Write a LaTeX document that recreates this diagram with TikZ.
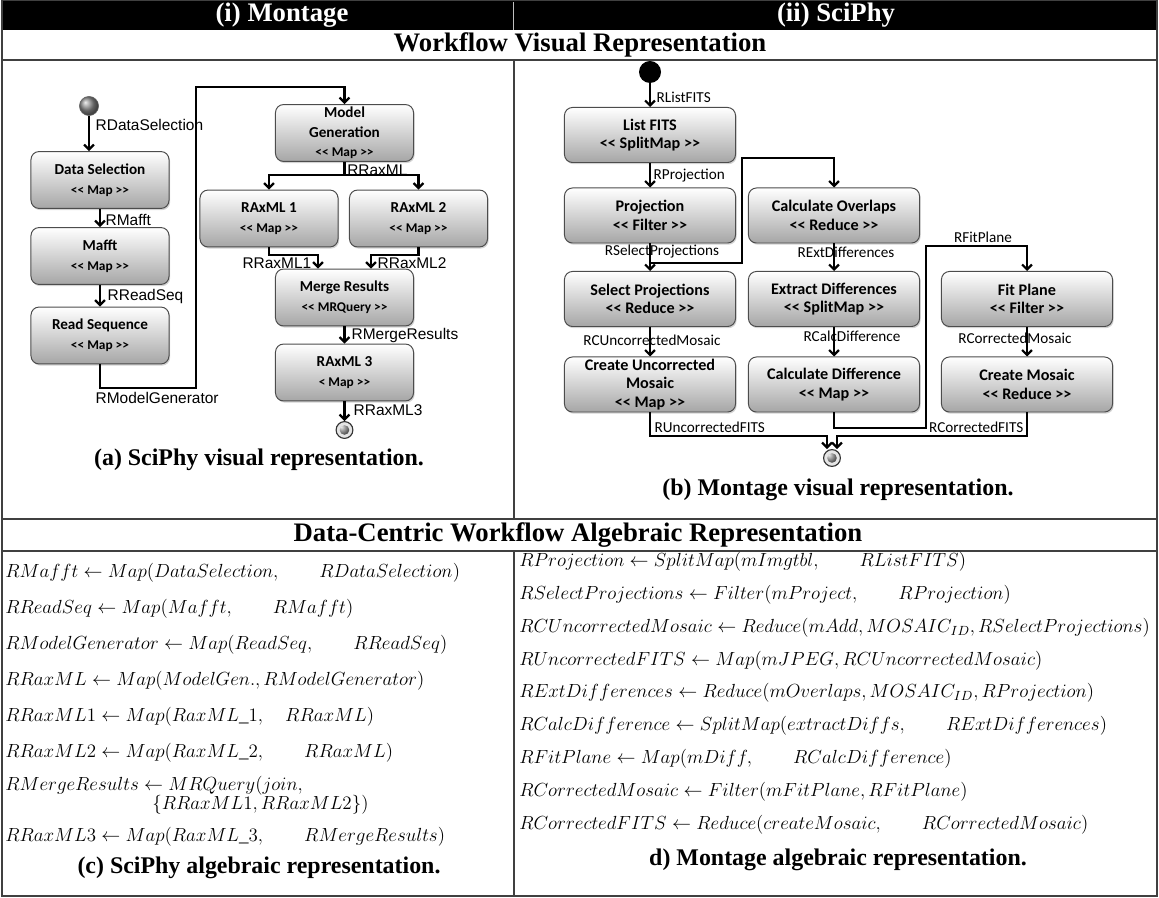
\RequirePackage{fix-cm}
\documentclass[tikz,border=0pt]{standalone}
\usepackage{fontspec}
\setmainfont{Liberation Serif}
\newfontfamily\calfont{Carlito}
\newfontfamily\arialfont{Liberation Sans}
\usetikzlibrary{positioning,arrows.meta,shadows}

\newcommand{\lstype}[1]{{\fontsize{9.5}{12}\selectfont\textless\textless{} #1 \textgreater\textgreater}}
\newcommand{\rstype}[1]{\textless\textless{} #1 \textgreater\textgreater}

\tikzset{
  lbox/.style={draw=black!70, line width=0.7pt, rounded corners=0.2cm, top color=white, bottom color=black!35,
    drop shadow={opacity=0.35, shadow xshift=0.8pt, shadow yshift=-1.2pt},
    minimum width=3.45cm, minimum height=1.42cm, align=center, inner sep=1pt,
    font=\calfont\bfseries\fontsize{10.8}{14}\selectfont},
  rbox/.style={lbox, minimum width=4.275cm, minimum height=1.375cm,
    font=\calfont\bfseries\fontsize{11.5}{13}\selectfont},
  flow/.style={line width=1.6pt, -{Straight Barb[length=3.5pt,width=7pt]}},
  wire/.style={line width=1.6pt},
  frame/.style={draw=black!75, line width=0.9pt},
  llab/.style={font=\arialfont\fontsize{11}{13}\selectfont, inner sep=1pt},
  rlab/.style={font=\calfont\fontsize{10.8}{13}\selectfont, inner sep=1pt},
  eqn/.style={anchor=west, font=\fontsize{13.5}{16}\selectfont, inner sep=0pt},
  ttl/.style={font=\bfseries\fontsize{19}{21}\selectfont, inner sep=0pt},
  captxt/.style={font=\bfseries\fontsize{17}{19}\selectfont, inner sep=0pt},
  startball/.style={circle, draw=black!60, ball color=black!45, minimum size=0.48cm, inner sep=0pt},
  startdot/.style={circle, fill=black, minimum size=0.55cm, inner sep=0pt},
  endpt/.style={circle, draw=black!80, line width=0.8pt, fill=black!10, minimum size=0.42cm, inner sep=0pt,
    path picture={\shade[ball color=black!50] (path picture bounding box.center) circle (0.12cm);}},
}

\begin{document}
\begin{tikzpicture}[x=0.025cm, y=-0.025cm]
\useasboundingbox (0,0) rectangle (1159,898);

% table frame
\fill[black] (2,0) rectangle (1157,30);
\draw[white!75!black, line width=0.6pt] (513,2) -- (513,30);
\node (hmont) at (282,15) [ttl, text=white] {(i) Montage};
\node (hsci) at (836,15) [ttl, text=white] {(ii) SciPhy};
\node (hvis) at (580,45) [ttl] {Workflow Visual Representation};
\node (halg) at (578,535) [ttl] {Data-Centric Workflow Algebraic Representation};
\draw[frame] (2,0) rectangle (1157,896);
\draw[frame] (2,60) -- (1157,60);
\draw[frame] (2,519) -- (1157,519);
\draw[frame] (2,551) -- (1157,551);
\draw[frame] (514,60) -- (514,519);
\draw[frame] (514,551) -- (514,896);

% SciPhy workflow
\node (lstart) at (89,106) [startball] {};
\node (dsel) at (100,180) [lbox] {Data Selection\\\lstype{Map}};
\node (mafft) at (100,256) [lbox] {Mafft\\\lstype{Map}};
\node (rseq) at (100,335.5) [lbox] {Read Sequence\\\lstype{Map}};
\node (mgen) at (344.5,133) [lbox] {Model\\Generation\\\lstype{Map}};
\node (rax1) at (269,218.5) [lbox] {RAxML 1\\\lstype{Map}};
\node (rax2) at (418.5,218.5) [lbox] {RAxML 2\\\lstype{Map}};
\node (merge) at (344.5,297.5) [lbox] {Merge Results\\\lstype{MRQuery}};
\node (rax3) at (344.5,372.5) [lbox] {RAxML 3\\{\fontsize{9.5}{12}\selectfont\textless{} Map \textgreater\textgreater}};
\node (lend) at (344.5,430) [endpt] {};

\coordinate (lbend) at (196,388);
\coordinate (ltop) at (196,87);
\coordinate (lsplit) at (344.5,175);
\coordinate (lj1) at (318,255);
\coordinate (lj2) at (371,255);

\draw[flow] (lstart) -- (lstart |- dsel.north);
\draw[flow] (dsel) -- (mafft);
\draw[flow] (mafft) -- (rseq);
\draw[flow] (rseq.south) |- (lbend) -- (ltop) -| (mgen.north);
\draw[wire] (mgen) -- (lsplit);
\draw[flow] (lsplit) -| (rax1.north);
\draw[flow] (lsplit) -| (rax2.north);
\draw[flow] (rax1.south) |- (lj1) -- (lj1 |- merge.north);
\draw[flow] (rax2.south) |- (lj2) -- (lj2 |- merge.north);
\draw[flow] (merge) -- (rax3);
\draw[flow] (rax3) -- (lend);

\node (tdsel) at (94,125) [llab, anchor=west] {RDataSelection};
\node (tmafft) at (104,220) [llab, anchor=west] {RMafft};
\node (trseq) at (106,297) [llab, anchor=west] {RReadSeq};
\node (tmgen) at (94,391) [llab, anchor=north west] {RModelGenerator};
\node (trax) at (347,176) [llab, anchor=south west, inner sep=0pt] {RRaxML};
\node (trax1) at (313,256) [llab, anchor=north east] {RRaxML1};
\node (trax2) at (376,256) [llab, anchor=north west] {RRaxML2};
\node (tmerge) at (350,336) [llab, anchor=west] {RMergeResults};
\node (trax3) at (352,410) [llab, anchor=west] {RRaxML3};
\node (capa) at (259,460) [captxt] {(a) SciPhy visual representation.};

% Montage workflow
\node (rstart) at (650,72) [startdot] {};
\node (lfits) at (650,135) [rbox] {List FITS\\\rstype{SplitMap}};
\node (proj) at (650,215.5) [rbox] {Projection\\\rstype{Filter}};
\node (covl) at (834,215.5) [rbox] {Calculate Overlaps\\\rstype{Reduce}};
\node (sproj) at (650,299) [rbox] {Select Projections\\\rstype{Reduce}};
\node (extd) at (834,299) [rbox] {Extract Differences\\\rstype{SplitMap}};
\node (fitp) at (1027,299) [rbox] {Fit Plane\\\rstype{Filter}};
\node (cunc) at (650,384.5) [rbox] {Create Uncorrected\\Mosaic\\\rstype{Map}};
\node (cdiff) at (834,384.5) [rbox] {Calculate Difference\\\rstype{Map}};
\node (cmos) at (1027,384.5) [rbox] {Create Mosaic\\\rstype{Reduce}};
\node (rend) at (832,458) [endpt] {};

\coordinate (rsplit) at (650,263);
\coordinate (rup) at (742,158);
\coordinate (rdn) at (926,428);
\coordinate (rhi) at (926,246);
\coordinate (rin1) at (827,436);
\coordinate (rin2) at (837,436);

\draw[flow] (rstart) -- (lfits);
\draw[flow] (lfits) -- (proj);
\draw[flow] (proj) -- (sproj);
\draw[flow] (rsplit) -| (rup) -| (covl.north);
\draw[flow] (covl) -- (extd);
\draw[flow] (extd) -- (cdiff);
\draw[flow] (sproj) -- (cunc);
\draw[flow] (fitp) -- (cmos);
\draw[flow] (cdiff.south) |- (rdn) -- (rhi) -| (fitp.north);
\draw[flow] (cunc.south) |- (rin1) -- (rin1 |- rend.north);
\draw[flow] (cmos.south) |- (rin2) -- (rin2 |- rend.north);

\node (tlfits) at (655,97) [rlab, anchor=west] {RListFITS};
\node (tproj) at (652,176) [rlab, anchor=west] {RProjection};
\node (tsproj) at (662,252) [rlab] {RSelectProjections};
\node (textd) at (846,252) [rlab] {RExtDifferences};
\node (tcunc) at (652,340) [rlab] {RCUncorrectedMosaic};
\node (tcdiff) at (852,336) [rlab] {RCalcDifference};
\node (tcmos) at (1015,338) [rlab] {RCorrectedMosaic};
\node (tfitp) at (983,244) [rlab, anchor=south] {RFitPlane};
\node (tufits) at (653,434) [rlab, anchor=south west] {RUncorrectedFITS};
\node (tcfits) at (1025,434) [rlab, anchor=south east] {RCorrectedFITS};
\node (capb) at (838,490) [captxt] {(b) Montage visual representation.};

% algebraic representation
\node (e1) at (5,573) [eqn] {$RMafft \leftarrow Map(DataSelection,\qquad RDataSelection)$};
\node (e2) at (5,609) [eqn] {$RReadSeq \leftarrow Map(Mafft,\qquad RMafft)$};
\node (e3) at (5,645) [eqn] {$RModelGenerator \leftarrow Map(ReadSeq,\qquad RReadSeq)$};
\node (e4) at (5,681) [eqn] {$RRaxML \leftarrow Map(ModelGen., RModelGenerator)$};
\node (e5) at (5,717) [eqn] {$RRaxML1 \leftarrow Map(RaxML\_1,\quad RRaxML)$};
\node (e6) at (5,753) [eqn] {$RRaxML2 \leftarrow Map(RaxML\_2,\qquad RRaxML)$};
\node (e7) at (5,786) [eqn] {$RMergeResults \leftarrow MRQuery(join,$};
\node (e7b) at (152,805) [eqn] {$\{RRaxML1, RRaxML2\})$};
\node (e8) at (5,837) [eqn] {$RRaxML3 \leftarrow Map(RaxML\_3,\qquad RMergeResults)$};
\node (capc) at (259,868) [captxt] {(c) SciPhy algebraic representation.};

\node (f1) at (519,562) [eqn] {$RProjection \leftarrow SplitMap(mImgtbl,\qquad RListFITS)$};
\node (f2) at (519,595) [eqn] {$RSelectProjections \leftarrow Filter(mProject,\qquad RProjection)$};
\node (f3) at (519,628) [eqn] {$RCUncorrectedMosaic \leftarrow Reduce(mAdd, MOSAIC_{ID}, RSelectProjections)$};
\node (f4) at (519,661) [eqn] {$RUncorrectedFITS \leftarrow Map(mJPEG, RCUncorrectedMosaic)$};
\node (f5) at (519,693) [eqn] {$RExtDifferences \leftarrow Reduce(mOverlaps, MOSAIC_{ID}, RProjection)$};
\node (f6) at (519,726) [eqn] {$RCalcDifference \leftarrow SplitMap(extractDiffs,\qquad RExtDifferences)$};
\node (f7) at (519,759) [eqn] {$RFitPlane \leftarrow Map(mDiff,\qquad RCalcDifference)$};
\node (f8) at (519,792) [eqn] {$RCorrectedMosaic \leftarrow Filter(mFitPlane, RFitPlane)$};
\node (f9) at (519,825) [eqn] {$RCorrectedFITS \leftarrow Reduce(createMosaic,\qquad RCorrectedMosaic)$};
\node (capd) at (838,860) [captxt] {d) Montage algebraic representation.};
\end{tikzpicture}
\end{document}
